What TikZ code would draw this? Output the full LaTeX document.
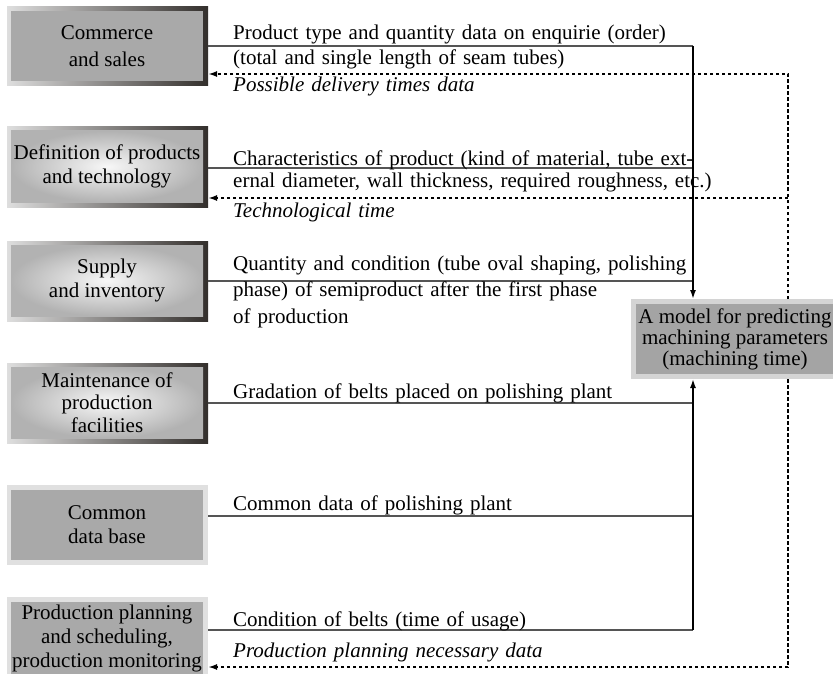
\documentclass[tikz,border=0pt]{standalone}
\usepackage{fontspec}
\setmainfont{Liberation Serif}
\usetikzlibrary{arrows.meta}
\definecolor{innergray}{HTML}{A9A9A9}
\definecolor{radialedge}{HTML}{B2B2B2}
\definecolor{framelight}{HTML}{DEDEDE}
\definecolor{framedark}{HTML}{332F2C}
\definecolor{plainframe}{HTML}{E0E0E0}
\definecolor{modelgray}{HTML}{A4A4A4}
\definecolor{modelframe}{HTML}{D4D4D4}
\definecolor{linegray}{HTML}{555555}
\begin{document}
\begin{tikzpicture}[x=1pt,y=-1pt,
  boxbase/.style={inner sep=0pt, outer sep=0pt, anchor=north west, draw=none},
  frameG/.style={boxbase, left color=framelight, right color=framedark},
  frameP/.style={boxbase, fill=plainframe},
  frameM/.style={boxbase, fill=modelframe},
  boxtext/.style={font=\fontsize{21}{24}\selectfont, align=center},
  innerF/.style={boxbase, boxtext, fill=innergray},
  innerR/.style={boxbase, boxtext, inner color=white!97!black, outer color=radialedge},
  innerM/.style={boxbase, boxtext, fill=modelgray, font=\fontsize{21}{21}\selectfont},
  lbl/.style={font=\fontsize{21}{25}\selectfont, inner sep=0pt, text width=560pt, align=left, anchor=base west},
  ilbl/.style={lbl, font=\fontsize{21}{25}\selectfont\itshape},
  hline/.style={draw=linegray, line width=1.2pt},
  vline/.style={draw=black, line width=1.6pt},
  dotline/.style={draw=black, line width=2pt, dash pattern=on 3.5pt off 2.5pt},
  tip/.style={-{Latex[length=9pt,width=6pt]}}
]
\useasboundingbox (0,0) rectangle (833,674);
\fill[white] (0,0) rectangle (833,674);

% left boxes
\node[frameG, minimum width=201pt, minimum height=79pt] (comF) at (7,7) {};
\node[innerF, minimum width=192pt, minimum height=70pt] (com) at (11,11) {\raisebox{-3pt}{Commerce}\\[6pt]and sales};

\node[frameG, minimum width=201pt, minimum height=80pt] (defF) at (7,127) {};
\node[innerR, minimum width=192pt, minimum height=71pt] (def) at (11,131) {Definition of products\\and technology};

\node[frameG, minimum width=201pt, minimum height=80pt] (supF) at (7,241) {};
\node[innerR, minimum width=192pt, minimum height=71pt] (sup) at (11,245) {Supply\\and inventory};

\node[frameG, minimum width=201pt, minimum height=80pt] (mntF) at (7,363) {};
\node[innerR, minimum width=192pt, minimum height=71pt, font=\fontsize{21}{22.5}\selectfont] (mnt) at (11,367) {Maintenance of\\production\\facilities};

\node[frameP, minimum width=201pt, minimum height=80pt] (cdbF) at (7,485) {};
\node[innerF, minimum width=192pt, minimum height=70pt] (cdb) at (11,490) {Common\\data base};

\node[frameP, minimum width=201pt, minimum height=85pt] (pplF) at (7,597) {};
\node[innerF, minimum width=192pt, minimum height=72pt] (ppl) at (11,602) {Production planning\\and scheduling,\\production monitoring};

% model box
\node[frameM, minimum width=210pt, minimum height=80pt] (modF) at (631,299) {};
\node[innerM, minimum width=198pt, minimum height=70pt] (mod) at (636,304) {A model for predicting\\machining parameters\\(machining time)};

% junction coordinates
\coordinate (busA) at (693,46);
\coordinate (jDef) at (693,168);
\coordinate (jSup) at (693,281);
\coordinate (jMnt) at (693,403);
\coordinate (jCdb) at (693,516);
\coordinate (busB) at (693,630);
\coordinate (dotA) at (788,74);
\coordinate (jTech) at (788,198);
\coordinate (dotB) at (788,667);

% solid input lines
\draw[hline] (comF.east |- busA) -- (busA);
\draw[hline] (defF.east |- jDef) -- (jDef);
\draw[hline] (supF.east |- jSup) -- (jSup);
\draw[vline, tip] (busA) -- (modF.north -| busA);

\draw[hline] (mntF.east |- jMnt) -- (jMnt);
\draw[hline] (cdbF.east |- jCdb) -- (jCdb);
\draw[hline] (pplF.east |- busB) -- (busB);
\draw[vline, tip] (busB) -- (modF.south -| busB);

% dotted feedback lines
\draw[dotline, tip] (modF.north -| dotA) -- (dotA) -- (comF.east |- dotA);
\draw[dotline, tip] (jTech) -- (defF.east |- jTech);
\draw[dotline, tip] (modF.south -| dotB) -- (dotB) -- (pplF.east |- dotB);

% labels
\node[lbl] (l1) at (233,40) {Product type and quantity data on enquirie (order)\\(total and single length of seam tubes)};
\node[ilbl] (l1i) at (233,92) {Possible delivery times data};
\node[lbl, font=\fontsize{21}{23}\selectfont] (l2) at (233,165) {Characteristics of product (kind of material, tube ext-\\ernal diameter, wall thickness, required roughness, etc.)};
\node[ilbl] (l2i) at (233,218) {Technological time};
\node[lbl, font=\fontsize{21}{26.5}\selectfont] (l3) at (233,270) {Quantity and condition (tube oval shaping, polishing\\phase) of semiproduct after the first phase\\of production};
\node[lbl] (l4) at (233,398) {Gradation of belts placed on polishing plant};
\node[lbl] (l5) at (233,510) {Common data of polishing plant};
\node[lbl] (l6) at (233,626) {Condition of belts (time of usage)};
\node[ilbl] (l6i) at (233,657) {Production planning necessary data};
\end{tikzpicture}
\end{document}
